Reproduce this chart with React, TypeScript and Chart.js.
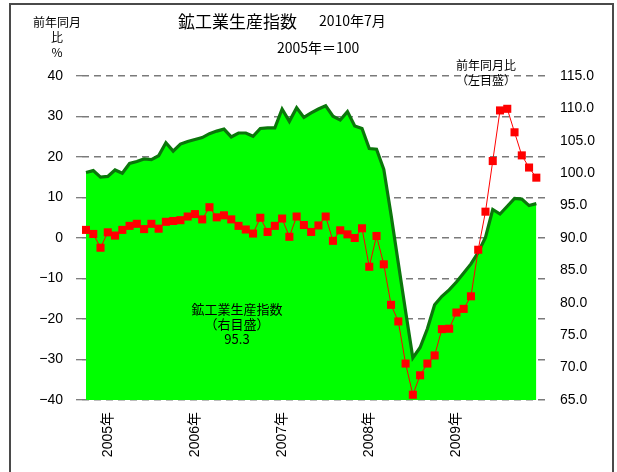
import React, { useEffect, useRef } from 'react';
import { Chart, registerables } from 'chart.js';

Chart.register(...registerables);

// Year labels shown on the month axis (index of the month they sit under)
const yearTickPositions = [3, 15, 27, 39, 51];
const yearTickLabels = ['2005年', '2006年', '2007年', '2008年', '2009年'];

// 前年同月比 (%) – left axis
const yoyPercent = [
  2.0, 1.0, -2.4, 1.4, 0.6, 2.0, 3.0, 3.5, 2.2, 3.5, 2.3, 4.0,
  4.2, 4.4, 5.3, 5.9, 4.6, 7.6, 5.1, 5.6, 4.6, 3.0, 2.1, 1.1,
  5.0, 1.5, 3.0, 4.8, 0.3, 5.3, 3.2, 1.5, 3.1, 5.3, -0.7, 1.9,
  0.9, 0.0, 2.4, -7.1, 0.5, -6.5, -16.5, -20.6, -31.0, -38.7, -33.9, -31.0,
  -29.0, -22.5, -22.4, -18.4, -17.5, -14.4, -2.9, 6.5, 19.0, 31.5, 31.9, 26.1,
  20.4, 17.4, 14.9,
];

// 鉱工業生産指数 (2005年=100) – right axis
const productionIndex = [
  100.1, 100.4, 99.4, 99.5, 100.5, 100.0, 101.5, 101.8, 102.2, 102.1, 102.7, 104.7,
  103.4, 104.5, 104.9, 105.2, 105.5, 106.1, 106.5, 106.8, 105.6, 106.2, 106.2, 105.7,
  106.9, 107.0, 107.0, 109.9, 108.0, 110.1, 108.6, 109.3, 109.9, 110.4, 108.8, 108.2,
  109.5, 107.3, 106.9, 103.8, 103.7, 100.6, 93.6, 86.1, 78.7, 71.5, 73.1, 76.0,
  79.7, 81.0, 82.0, 83.2, 84.6, 86.0, 87.8, 90.1, 94.4, 93.7, 94.9, 96.1,
  96.0, 95.0, 95.3,
];

const leftMin = -40;
const leftMax = 40;
const rightMin = 65;
const rightMax = 115;

const JP = '"Noto Sans CJK JP", "Liberation Sans", sans-serif';
const NUM = '"Liberation Sans", "Noto Sans CJK JP", sans-serif';

export default function App() {
  const canvasRef = useRef<HTMLCanvasElement | null>(null);

  useEffect(() => {
    const canvas = canvasRef.current;
    if (!canvas) return;
    const chart = new Chart(canvas, {
      type: 'line',
      data: {
        datasets: [
          {
            label: '前年同月比',
            data: yoyPercent.map((v, i) => ({ x: i, y: v })),
            yAxisID: 'y',
            borderColor: '#FF0000',
            borderWidth: 1,
            backgroundColor: '#FF0000',
            pointStyle: 'rect',
            pointRadius: 5.7,
            pointBorderWidth: 0,
            pointBackgroundColor: '#FF0000',
            fill: false,
            tension: 0,
            order: 0,
          },
          {
            label: '鉱工業生産指数',
            data: productionIndex.map((v, i) => ({ x: i, y: v })),
            yAxisID: 'y1',
            borderColor: '#0B760B',
            borderWidth: 3.2,
            backgroundColor: '#00FF00',
            pointRadius: 0,
            fill: 'start',
            tension: 0,
            order: 1,
          },
        ],
      },
      options: {
        animation: false,
        responsive: false,
        maintainAspectRatio: false,
        layout: { padding: { left: 10, right: 10, top: 76, bottom: 0 } },
        plugins: {
          legend: { display: false },
          tooltip: { enabled: false },
          title: { display: false },
        },
        scales: {
          x: {
            type: 'linear',
            min: -0.55,
            max: 63.47,
            grid: { display: false, drawTicks: false, tickLength: 0 },
            border: { display: false },
            afterBuildTicks: (scale: any) => {
              scale.ticks = yearTickPositions.map((v) => ({ value: v }));
            },
            afterFit: (scale: any) => {
              scale.height = 72;
            },
            ticks: {
              autoSkip: false,
              maxRotation: 90,
              minRotation: 90,
              padding: 12,
              color: '#000',
              font: { family: NUM, size: 14 },
              callback: (value: any) => {
                const k = yearTickPositions.indexOf(Number(value));
                return k >= 0 ? yearTickLabels[k] : '';
              },
            },
          },
          y: {
            type: 'linear',
            position: 'left',
            min: leftMin,
            max: leftMax,
            afterFit: (scale: any) => {
              scale.width = 72;
            },
            grid: {
              color: '#7a7a7a',
              lineWidth: 1.5,
              drawTicks: true,
              tickLength: 6,
              tickColor: '#555',
              tickWidth: 1,
            },
            border: { display: false, dash: [7, 5] },
            ticks: {
              stepSize: 10,
              padding: 13,
              color: '#000',
              font: { family: NUM, size: 14 },
              callback: (value: any) => {
                const v = Number(value);
                return v < 0 ? '\u2212' + Math.abs(v) : String(v);
              },
            },
          },
          y1: {
            type: 'linear',
            position: 'right',
            min: rightMin,
            max: rightMax,
            afterFit: (scale: any) => {
              scale.width = 60;
            },
            grid: { drawOnChartArea: false, drawTicks: false, tickLength: 0 },
            border: { display: false },
            ticks: {
              stepSize: 5,
              padding: 13,
              color: '#000',
              font: { family: NUM, size: 14 },
              callback: (value: any) => Number(value).toFixed(1),
            },
          },
        },
      },
    });
    return () => chart.destroy();
  }, []);

  const txt = (s: React.CSSProperties): React.CSSProperties => ({
    position: 'absolute',
    fontFamily: JP,
    color: '#000',
    whiteSpace: 'nowrap',
    lineHeight: 1,
    ...s,
  });

  return (
    <div style={{ position: 'fixed', left: 0, top: 0, width: 617, height: 472, background: '#fff', overflow: 'hidden' }}>
      <canvas ref={canvasRef} width={617} height={472} style={{ position: 'absolute', left: 0, top: 0 }} />
      <div
        style={{
          position: 'absolute',
          left: 9,
          top: 3,
          width: 605,
          height: 490,
          border: '2px solid #4a4a4a',
          boxSizing: 'border-box',
          pointerEvents: 'none',
        }}
      />
      <div style={txt({ left: 178, top: 12, fontSize: 17 })}>鉱工業生産指数</div>
      <div style={txt({ left: 319, top: 13, fontSize: 14 })}>2010年7月</div>
      <div style={txt({ left: 277, top: 40, fontSize: 14 })}>2005年＝100</div>
      <div style={txt({ left: 30, top: 14, fontSize: 12, width: 54, textAlign: 'center', lineHeight: '15px', whiteSpace: 'normal' })}>
        前年同月<br />比<br />%
      </div>
      <div style={txt({ left: 446, top: 57, fontSize: 12, width: 80, textAlign: 'center', lineHeight: '15px' })}>
        前年同月比<br />（左目盛）
      </div>
      <div style={txt({ left: 187, top: 301, fontSize: 13, width: 100, textAlign: 'center', lineHeight: '15px' })}>
        鉱工業生産指数<br />（右目盛）<br />95.3
      </div>
    </div>
  );
}
